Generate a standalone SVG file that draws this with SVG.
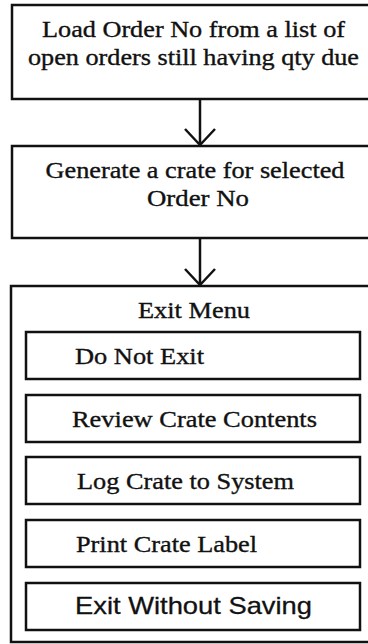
<svg xmlns="http://www.w3.org/2000/svg" width="368" height="644" viewBox="0 0 368 644">
<style>
.box{fill:#fff;stroke:#111;stroke-width:2.5}
.t{font-family:"Liberation Serif","Times New Roman",serif;font-size:23px;fill:#111;stroke:#111;stroke-width:0.35}
.s{font-family:"Liberation Sans",Arial,sans-serif;font-size:24px;fill:#111;stroke:#111;stroke-width:0.3}
.c{text-anchor:middle}
.edge{fill:none;stroke:#111;stroke-width:2.5}
</style>
<rect width="368" height="644" fill="#fff"/>
<g id="load">
<rect class="box" x="12" y="5" width="360" height="94"/>
<text class="t c" x="193.5" y="37" textLength="303" lengthAdjust="spacingAndGlyphs">Load Order No from a list of</text>
<text class="t c" x="193.5" y="65" textLength="331" lengthAdjust="spacingAndGlyphs">open orders still having qty due</text>
</g>
<g id="generate">
<rect class="box" x="12" y="146" width="360" height="92"/>
<text class="t c" x="195" y="178" textLength="299" lengthAdjust="spacingAndGlyphs">Generate a crate for selected</text>
<text class="t c" x="198" y="206" textLength="102" lengthAdjust="spacingAndGlyphs">Order No</text>
</g>
<g id="exit-menu">
<rect class="box" x="11" y="286" width="361" height="356"/>
<text class="t c" x="194" y="318" textLength="112" lengthAdjust="spacingAndGlyphs">Exit Menu</text>
</g>
<g id="do-not-exit">
<rect class="box" x="26" y="332" width="334" height="47"/>
<text class="t" x="75" y="364" textLength="129" lengthAdjust="spacingAndGlyphs">Do Not Exit</text>
</g>
<g id="review">
<rect class="box" x="26" y="395" width="334" height="47"/>
<text class="t" x="72" y="427" textLength="245" lengthAdjust="spacingAndGlyphs">Review Crate Contents</text>
</g>
<g id="log">
<rect class="box" x="26" y="457" width="334" height="47"/>
<text class="t" x="77" y="489" textLength="217" lengthAdjust="spacingAndGlyphs">Log Crate to System</text>
</g>
<g id="print">
<rect class="box" x="26" y="520" width="334" height="47"/>
<text class="t" x="76" y="552" textLength="181" lengthAdjust="spacingAndGlyphs">Print Crate Label</text>
</g>
<g id="exit-without-saving">
<rect class="box" x="26" y="583" width="334" height="47"/>
<text class="s" x="75" y="614" textLength="237" lengthAdjust="spacingAndGlyphs">Exit Without Saving</text>
</g>
<g id="connectors">
<path class="edge" d="M200,99 V145 M185,129 L200,145 L215,129"/>
<path class="edge" d="M200,238 V285 M185,269 L200,285 L215,269"/>
</g>
</svg>
